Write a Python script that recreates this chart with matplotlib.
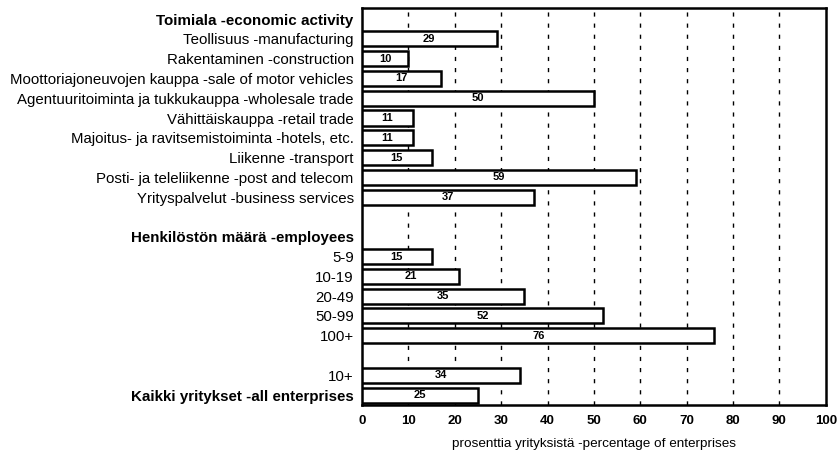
import matplotlib.pyplot as plt
import numpy as np

plt.rcParams['font.family'] = ['Liberation Sans', 'DejaVu Sans']

# rows from top to bottom; None = header or empty row
labels = ['Toimiala -economic activity',
          'Teollisuus -manufacturing',
          'Rakentaminen -construction',
          'Moottoriajoneuvojen kauppa -sale of motor vehicles',
          'Agentuuritoiminta ja tukkukauppa -wholesale trade',
          'Vähittäiskauppa -retail trade',
          'Majoitus- ja ravitsemistoiminta -hotels, etc.',
          'Liikenne -transport',
          'Posti- ja teleliikenne -post and telecom',
          'Yrityspalvelut -business services',
          '',
          'Henkilöstön määrä -employees',
          '5-9',
          '10-19',
          '20-49',
          '50-99',
          '100+',
          '',
          '10+',
          'Kaikki yritykset -all enterprises']
values = [None, 29, 10, 17, 50, 11, 11, 15, 59, 37,
          None, None, 15, 21, 35, 52, 76,
          None, 34, 25]
bold_rows = [0, 11, 19]

fig = plt.figure(figsize=(8.4, 4.54), dpi=100)
ax = fig.add_axes([0.431, 0.108, 0.552, 0.874])

y = np.arange(len(labels))
for i, v in enumerate(values):
    if v is None:
        continue
    ax.barh(i, v, height=0.76, color='white', edgecolor='black',
            linewidth=1.8, zorder=3)
    ax.text(v / 2, i, str(v), ha='center', va='center', fontsize=8,
            fontweight='bold', zorder=4)

ax.set_xlim(0, 100)
ax.set_ylim(len(labels) - 0.5, -0.55)
ax.set_yticks(y)
ax.set_yticklabels(labels, fontsize=10.8)
for i in bold_rows:
    ax.get_yticklabels()[i].set_fontweight('bold')
    ax.get_yticklabels()[i].set_fontsize(10.9)
ax.tick_params(axis='y', length=0, pad=6)
ax.set_xticks(np.arange(0, 101, 10))
ax.tick_params(axis='x', length=0, pad=7, labelsize=9.5)
for t in ax.get_xticklabels():
    t.set_fontweight('bold')
ax.set_xlabel('prosenttia yrityksistä -percentage of enterprises',
              fontsize=9.7, labelpad=8)

for x in range(10, 100, 10):
    ax.axvline(x, color='black', linestyle=(0, (3, 5)), linewidth=1.0,
               zorder=1)

for s in ax.spines.values():
    s.set_linewidth(1.8)

fig.savefig('out.png', dpi=100)
